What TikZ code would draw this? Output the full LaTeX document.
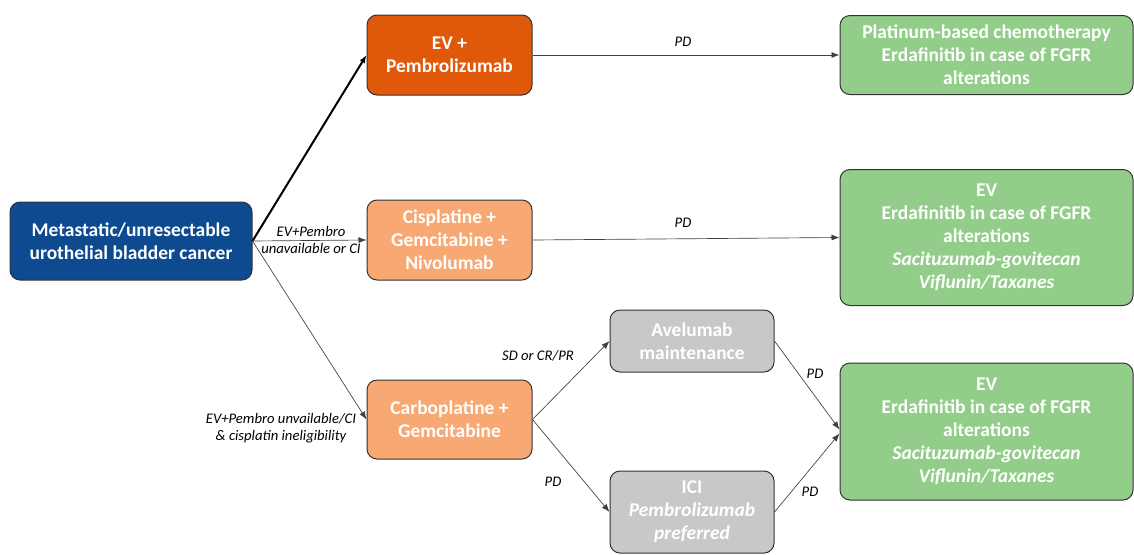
\documentclass[tikz,border=0pt]{standalone}
\usepackage{fontspec}
\setmainfont{Carlito}
\usetikzlibrary{arrows.meta}

\definecolor{bluebox}{RGB}{14,74,143}
\definecolor{orangebox}{RGB}{224,89,11}
\definecolor{peachbox}{RGB}{247,168,115}
\definecolor{greybox}{RGB}{200,200,200}
\definecolor{greenbox}{RGB}{147,205,138}

\tikzset{
  box/.style={draw=black!80, line width=0.75, rounded corners=7.5pt, align=center, text=white, font=\bfseries\fontsize{14.6}{17.2}\selectfont, inner sep=0pt},
  lbl/.style={font=\itshape\fontsize{11}{12.8}\selectfont, align=center, inner sep=1pt},
  conn/.style={draw=black!75, line width=0.5, -{Latex[length=6pt,width=4.5pt]}}
}

\begin{document}
\begin{tikzpicture}[x=0.75pt,y=0.75pt,yscale=-1,xscale=1]
\useasboundingbox (0,0) rectangle (1134,554);

% Boxes
\node [box, fill=bluebox, minimum width=181.5pt, minimum height=58.5pt] (start) at (131,241) {Metastatic/unresectable\\urothelial bladder cancer};
\node [box, fill=orangebox, minimum width=123.75pt, minimum height=60pt] (evp) at (449.5,55) {EV +\\Pembrolizumab};
\node [box, fill=peachbox, minimum width=123.75pt, minimum height=60pt] (cis) at (449.5,240) {Cisplatine +\\Gemcitabine +\\Nivolumab};
\node [box, fill=peachbox, minimum width=123.75pt, minimum height=59.25pt] (carbo) at (449.5,419.5) {Carboplatine +\\Gemcitabine};
\node [box, fill=greybox, minimum width=123pt, minimum height=46.5pt] (ave) at (692,341) {Avelumab\\maintenance};
\node [box, fill=greybox, minimum width=123pt, minimum height=61.5pt] (ici) at (692,512) {ICI\\\textit{Pembrolizumab}\\\textit{preferred}};
\node [box, fill=greenbox, minimum width=219.75pt, minimum height=59.25pt] (plat) at (986.5,55) {Platinum-based chemotherapy\\Erdafinitib in case of FGFR\\alterations};
\node [box, fill=greenbox, minimum width=219.75pt, minimum height=102pt] (evA) at (986.5,237.5) {EV\\Erdafinitib in case of FGFR\\alterations\\\textit{Sacituzumab-govitecan}\\\textit{Viflunin/Taxanes}};
\node [box, fill=greenbox, minimum width=219.75pt, minimum height=102.75pt] (evB) at (986.5,431.5) {EV\\Erdafinitib in case of FGFR\\alterations\\\textit{Sacituzumab-govitecan}\\\textit{Viflunin/Taxanes}};

% Connectors
\draw [conn, draw=black, line width=1.5] (start.east) -- (evp.west);
\draw [conn] (start.east) -- (cis.west);
\draw [conn] (start.east) -- (carbo.west);
\draw [conn] (evp.east) -- (plat.west);
\draw [conn] (cis.east) -- (evA.west);
\draw [conn] (carbo.east) -- (ave.west);
\draw [conn] (carbo.east) -- (ici.west);
\draw [conn] (ave.east) -- ([yshift=-1.5pt]evB.west);
\draw [conn] (ici.east) -- ([yshift=1.5pt]evB.west);

% Text Node
\node [lbl] (l1) at (311,240) {EV+Pembro\\unavailable or CI};
\node [lbl] (l2) at (281,428) {EV+Pembro unvailable/CI\\\& cisplatin ineligibility};
\node [lbl] (l3) at (683,42) {PD};
\node [lbl] (l4) at (683,223) {PD};
\node [lbl] (l5) at (538,356) {SD or CR/PR};
\node [lbl] (l6) at (553,482) {PD};
\node [lbl] (l7) at (815,374) {PD};
\node [lbl] (l8) at (810,492) {PD};

\end{tikzpicture}
\end{document}
